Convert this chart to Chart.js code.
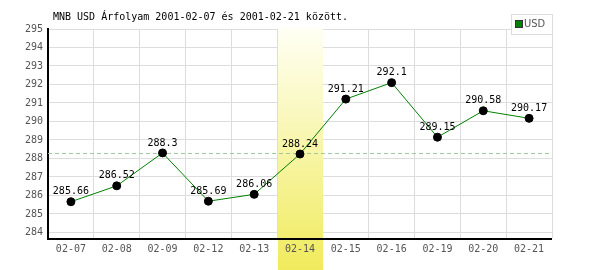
<!DOCTYPE html>
<html>
<head>
<meta charset="utf-8">
<script src="https://cdn.jsdelivr.net/npm/chart.js@4"></script>
<style>
  html, body { margin: 0; padding: 0; background: #fff; }
  #wrap { width: 600px; height: 270px; position: relative; }
</style>
</head>
<body>
<div id="wrap"><canvas id="chart"></canvas></div>
<script>
// MNB USD exchange rate, 2001-02-07 .. 2001-02-21
const dates = ['02-07', '02-08', '02-09', '02-12', '02-13', '02-14', '02-15', '02-16', '02-19', '02-20', '02-21'];
const usdRates = [285.66, 286.52, 288.3, 285.69, 286.06, 288.24, 291.21, 292.1, 289.15, 290.58, 290.17];
const yTicks = [284, 285, 286, 287, 288, 289, 290, 291, 292, 293, 294, 295];
const referenceLine = 288.27;
const highlightDate = '02-14';
const titleText = 'MNB USD Árfolyam 2001-02-07 és 2001-02-21 között.';
const seriesName = 'USD';

const MONO = '"DejaVu Sans Mono", "Liberation Mono", monospace';
const TICK_PAD = 5;

// band behind the highlighted day + dashed reference line
const backgroundPlugin = {
    id: 'background',
    beforeDatasetsDraw(chart) {
        const { ctx, chartArea, scales } = chart;
        const x = scales.x;
        const idx = dates.indexOf(highlightDate);
        const half = (x.getPixelForValue(1) - x.getPixelForValue(0)) / 2;
        const cx = x.getPixelForValue(idx);
        const grad = ctx.createLinearGradient(0, chartArea.top, 0, chart.height);
        grad.addColorStop(0, '#fffff4');
        grad.addColorStop(1, '#f0eb5c');
        ctx.save();
        ctx.fillStyle = grad;
        ctx.fillRect(Math.round(cx - half) + 1, chartArea.top - 1, Math.round(half * 2) - 1, chart.height - chartArea.top + 1);

        const yRef = Math.round(scales.y.getPixelForValue(referenceLine)) + 0.5;
        ctx.strokeStyle = '#a0c8a0';
        ctx.lineWidth = 1;
        ctx.setLineDash([4, 3]);
        ctx.beginPath();
        ctx.moveTo(chartArea.left, yRef);
        ctx.lineTo(chartArea.right, yRef);
        ctx.stroke();
        ctx.restore();
    }
};

// redraw the x axis line and the covered tick label on top of the band, plus title, legend and labels
const overlayPlugin = {
    id: 'overlay',
    afterDraw(chart) {
        const { ctx, chartArea, scales } = chart;
        ctx.save();
        ctx.strokeStyle = '#000';
        ctx.lineWidth = 2;
        ctx.beginPath();
        ctx.moveTo(chartArea.left - 1, chartArea.bottom + 1);
        ctx.lineTo(chartArea.right, chartArea.bottom + 1);
        ctx.stroke();

        // same label again, so it sits above the band like the others
        const idx = dates.indexOf(highlightDate);
        const other = scales.x._labelItems && scales.x._labelItems[0];
        ctx.fillStyle = '#555';
        ctx.font = '10px ' + MONO;
        ctx.textAlign = 'center';
        if (other) {
            ctx.textBaseline = other.options.textBaseline;
            ctx.fillText(highlightDate, scales.x.getPixelForValue(idx), other.options.translation[1] + other.textOffset);
        } else {
            ctx.textBaseline = 'top';
            ctx.fillText(highlightDate, scales.x.getPixelForValue(idx), chartArea.bottom + TICK_PAD);
        }

        // title
        ctx.fillStyle = '#000';
        ctx.font = '10px ' + MONO;
        ctx.textAlign = 'left';
        ctx.textBaseline = 'middle';
        ctx.fillText(titleText, 53, 17);

        // legend box
        ctx.fillStyle = '#fff';
        ctx.fillRect(511, 14, 42, 21);
        ctx.strokeStyle = '#dddddd';
        ctx.lineWidth = 1;
        ctx.strokeRect(511.5, 14.5, 41, 20);
        ctx.fillStyle = '#008000';
        ctx.fillRect(516, 21, 6, 6);
        ctx.strokeStyle = '#333';
        ctx.strokeRect(515.5, 20.5, 7, 7);
        ctx.fillStyle = '#555';
        ctx.font = '11px "Liberation Sans Narrow", "DejaVu Sans Condensed", sans-serif';
        ctx.fillText(seriesName, 524, 24.5);

        // value labels
        const meta = chart.getDatasetMeta(0);
        ctx.fillStyle = '#000';
        ctx.font = '10px ' + MONO;
        ctx.textAlign = 'center';
        ctx.textBaseline = 'bottom';
        meta.data.forEach((pt, i) => {
            ctx.fillText(String(usdRates[i]), pt.x, pt.y - 5);
        });
        ctx.restore();
    }
};

new Chart(document.getElementById('chart'), {
    type: 'line',
    data: {
        labels: dates,
        datasets: [{
            label: seriesName,
            data: usdRates,
            borderColor: '#008000',
            borderWidth: 1,
            pointBackgroundColor: '#000',
            pointBorderColor: '#000',
            pointRadius: 4,
            tension: 0
        }]
    },
    options: {
        responsive: true,
        maintainAspectRatio: false,
        animation: false,
        devicePixelRatio: 1,
        layout: { padding: { top: 29, right: 48, left: 0, bottom: 0 } },
        plugins: {
            legend: { display: false },
            title: { display: false },
            tooltip: { enabled: false }
        },
        scales: {
            x: {
                offset: true,
                grid: { offset: true, color: '#dddddd', drawTicks: false },
                border: { display: false },
                ticks: {
                    color: '#555',
                    font: { family: MONO, size: 10 },
                    padding: TICK_PAD,
                    maxRotation: 0,
                    autoSkip: false
                },
                afterFit(scale) { scale.height = 32; }
            },
            y: {
                min: 283.7,
                max: 295,
                grid: { color: '#dddddd', drawTicks: false },
                border: { color: '#000', width: 2 },
                ticks: {
                    includeBounds: false,
                    color: '#555',
                    font: { family: MONO, size: 10 },
                    padding: 5
                },
                afterBuildTicks(scale) {
                    scale.ticks = yTicks.map(v => ({ value: v }));
                },
                afterFit(scale) { scale.width = 48; }
            }
        }
    },
    plugins: [backgroundPlugin, overlayPlugin]
});
</script>
</body>
</html>
